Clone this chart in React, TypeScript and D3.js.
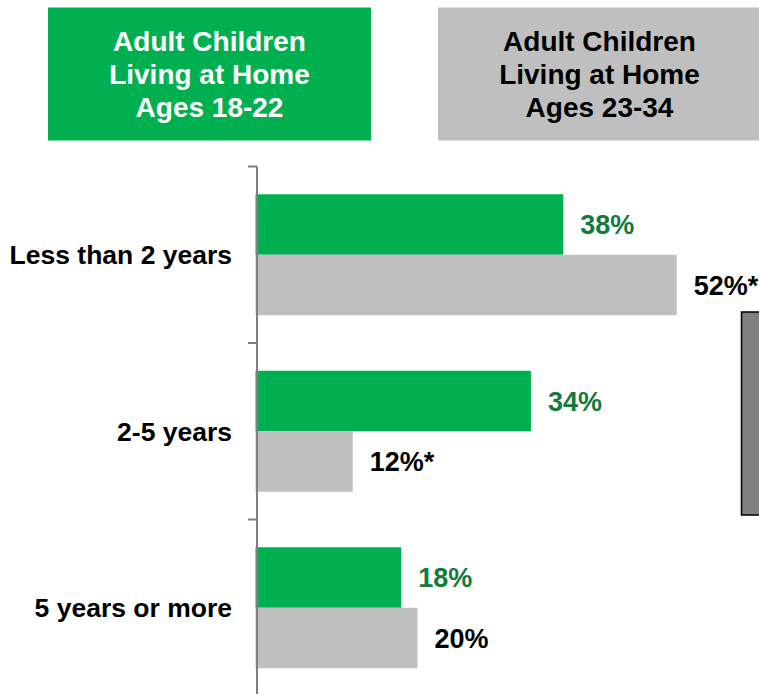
import React from "react";
import * as d3 from "d3";

const categories = ["Less than 2 years", "2-5 years", "5 years or more"];
const series = ["Ages 18-22", "Ages 23-34"];
const values1822 = [38, 34, 18];
const values2334 = [52, 12, 20];
const labels1822 = ["38%", "34%", "18%"];
const labels2334 = ["52%*", "12%*", "20%"];
const legendLines1822 = ["Adult Children", "Living at Home", "Ages 18-22"];
const legendLines2334 = ["Adult Children", "Living at Home", "Ages 23-34"];

const W = 759;
const H = 694;
const FONT = "'Liberation Sans', Arial, sans-serif";
const GREEN = "#00B050";
const GRAY = "#BFBFBF";
const GREEN_TEXT = "#147A3C";

export default function App() {
  const x = d3.scaleLinear().domain([0, 60]).range([255.5, 741.5]);
  const y = d3.scaleBand<string>().domain(categories).range([166.5, 696]).paddingInner(0).paddingOuter(0);
  const barH = 60.5;
  const bars = categories.map((c, i) => {
    const center = (y(c) as number) + y.bandwidth() / 2;
    return { c, i, center };
  });
  const tickYs = [...categories.map((c) => y(c) as number), 696];
  const axisX = 257;
  const legendBoxes = [
    { x: 48, fill: GREEN, color: "#FFFFFF", lines: legendLines1822, key: series[0] },
    { x: 438, fill: GRAY, color: "#000000", lines: legendLines2334, key: series[1] },
  ];
  return (
    <svg width={W} height={H} style={{ position: "absolute", left: 0, top: 0, background: "#fff" }} fontFamily={FONT}>
      {legendBoxes.map((b) => (
        <g key={b.key}>
          <rect x={b.x} y={7.5} width={323} height={133} fill={b.fill} />
          {b.lines.map((t, j) => (
            <text key={j} x={b.x + 161.5} y={51 + j * 33} textAnchor="middle" fontSize={28} fontWeight="bold" fill={b.color} textLength={undefined}>
              {t}
            </text>
          ))}
        </g>
      ))}
      {bars.map(({ c, i, center }) => (
        <g key={c}>
          <rect x={x(0)} y={center - barH} width={x(values1822[i]) - x(0)} height={barH} fill={GREEN} />
          <rect x={x(0)} y={center} width={x(values2334[i]) - x(0)} height={barH} fill={GRAY} />
          <text x={x(values1822[i]) + 17} y={center - barH / 2 + 9.5} fontSize={27} fontWeight="bold" fill={GREEN_TEXT}>
            {labels1822[i]}
          </text>
          <text x={x(values2334[i]) + 17} y={center + barH / 2 + 9.5} fontSize={27} fontWeight="bold" fill="#000">
            {labels2334[i]}
          </text>
          <text x={232} y={center + 9.5} textAnchor="end" fontSize={26.5} fontWeight="bold" fill="#000">
            {c}
          </text>
        </g>
      ))}
      <line x1={axisX} x2={axisX} y1={166.5} y2={H} stroke="#7F7F7F" strokeWidth={2} />
      {tickYs.map((t, k) => (
        <line key={k} x1={248} x2={axisX} y1={t} y2={t} stroke="#7F7F7F" strokeWidth={2} />
      ))}
      <rect x={741.5} y={312} width={30} height={203} fill="#808080" stroke="#000" strokeWidth={1.5} />
    </svg>
  );
}
